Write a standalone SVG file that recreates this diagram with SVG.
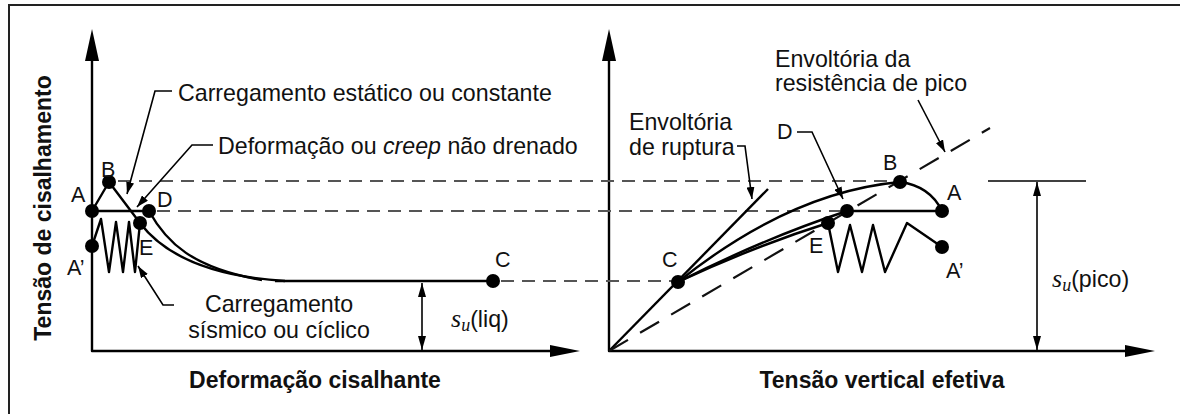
<svg xmlns="http://www.w3.org/2000/svg" width="1180" height="414" viewBox="0 0 1180 414">
<style>
text{font-family:"Liberation Sans",Arial,sans-serif;fill:#111}
.lbl{font-size:23.2px}
.pt{font-size:21.5px}
.ax{font-size:23px;font-weight:bold}
.ln{fill:none;stroke:#000;stroke-width:2.4;stroke-linejoin:round}
.thin{fill:none;stroke:#000;stroke-width:1.6}
.dash{fill:none;stroke:#555;stroke-width:1.8;stroke-dasharray:13 8}
.pdash{fill:none;stroke:#111;stroke-width:2.2;stroke-dasharray:22 14}
.dot{fill:#000}
.math{font-family:"Liberation Serif","Times New Roman",serif;font-style:italic}
</style>
<defs>
<marker id="ah" viewBox="0 0 12 8" refX="12" refY="4" markerWidth="12" markerHeight="8" markerUnits="userSpaceOnUse" orient="auto"><path d="M0,0 L12,4 L0,8 z" fill="#000"/></marker>
<marker id="dh" viewBox="0 0 14 8" refX="14" refY="4" markerWidth="14" markerHeight="8" markerUnits="userSpaceOnUse" orient="auto-start-reverse"><path d="M0,0 L14,4 L0,8 z" fill="#000"/></marker>
</defs>
<rect x="9" y="5" width="1190" height="430" fill="#fff" stroke="#222" stroke-width="2"/>

<g id="axes">
<path class="ln" d="M92,55 V351 H555"/>
<polygon points="92,29 85,61 99,61" fill="#000"/>
<polygon points="580,351 550,345 550,357" fill="#000"/>
<path class="ln" d="M609,55 V351 H1130"/>
<polygon points="609,29 602,61 616,61" fill="#000"/>
<polygon points="1155,351 1125,345 1125,357" fill="#000"/>
<text class="ax" transform="translate(51,208) rotate(-90)" text-anchor="middle">Tensão de cisalhamento</text>
<text class="ax" x="315" y="388" text-anchor="middle">Deformação cisalhante</text>
<text class="ax" x="882" y="388" text-anchor="middle">Tensão vertical efetiva</text>
</g>

<g id="connectors">
<path class="dash" d="M118,181 H893"/>
<path class="dash" d="M157,211 H840"/>
<path class="dash" d="M501,281 H672"/>
<!-- left plot -->
<path class="ln" d="M92,211 L109,182 L140,223"/>
<path class="ln" d="M92,211 H149"/>
<path class="ln" d="M140,223 C162,252 205,276 285,281"/>
<path class="ln" d="M149,211 C166,242 192,268 262,280"/>
<path class="ln" d="M275,281 H493"/>
<path class="ln" d="M92,246 L101,219 L109,272 L116,222 L123,272 L129,222 L135,272 L140,223"/>
<path class="thin" d="M172,91 H155 L127,194" marker-end="url(#ah)"/>
<path class="thin" d="M213,145 H192 L137,207" marker-end="url(#ah)"/>
<path class="thin" d="M174,305 H163 L138,266" marker-end="url(#ah)"/>
<path class="thin" d="M422,283 V350" marker-start="url(#dh)" marker-end="url(#dh)"/>
<!-- right plot -->
<path class="ln" d="M609,351 L768,189"/>
<path class="pdash" d="M609,351 L990,128"/>
<path class="ln" d="M678,282 Q790,192 900,182"/>
<path class="ln" d="M678,282 Q765,238 847,211"/>
<path class="ln" d="M678,282 Q755,246 828,223"/>
<path class="ln" d="M847,211 H942"/>
<path class="ln" d="M900,182 Q930,186 942,211"/>
<path class="ln" d="M828,223 L838,272 L850,225 L862,272 L873,225 L885,272 L907,223 L942,247"/>
<path class="thin" d="M737,146 H745 L752,199" marker-end="url(#ah)"/>
<path class="thin" d="M797,132 H812 L843,199" marker-end="url(#ah)"/>
<path class="thin" d="M918,100 L945,152" marker-end="url(#ah)"/>
<path class="thin" d="M988,181 H1086"/>
<path class="thin" d="M1037,182 V350" marker-start="url(#dh)" marker-end="url(#dh)"/>
</g>

<g id="label-static"><text class="lbl" x="178" y="101">Carregamento estático ou constante</text></g>
<g id="label-creep"><text class="lbl" x="218" y="154">Deformação ou <tspan font-style="italic">creep</tspan> não drenado</text></g>
<g id="label-cyclic"><text class="lbl" x="279" y="312" text-anchor="middle">Carregamento</text><text class="lbl" x="279" y="338" text-anchor="middle">sísmico ou cíclico</text></g>
<g id="label-suliq"><text class="lbl" x="451" y="327"><tspan class="math" font-size="26">s</tspan><tspan class="math" font-size="18" dy="4">u</tspan><tspan dy="-4">(liq)</tspan></text></g>

<g id="L-A"><circle class="dot" cx="92" cy="211" r="7"/><text class="pt" x="71" y="202">A</text></g>
<g id="L-B"><circle class="dot" cx="109" cy="182" r="7"/><text class="pt" x="101" y="177">B</text></g>
<g id="L-D"><circle class="dot" cx="149" cy="211" r="7"/><text class="pt" x="157" y="207">D</text></g>
<g id="L-E"><circle class="dot" cx="140" cy="223" r="7"/><text class="pt" x="139" y="255">E</text></g>
<g id="L-A2"><circle class="dot" cx="92" cy="246" r="7"/><text class="pt" x="67" y="275">A’</text></g>
<g id="L-C"><circle class="dot" cx="493" cy="281" r="7"/><text class="pt" x="495" y="267">C</text></g>

<g id="label-peak"><text class="lbl" x="775" y="67">Envoltória da</text><text class="lbl" x="775" y="91">resistência de pico</text></g>
<g id="label-rupture"><text class="lbl" x="629" y="130">Envoltória</text><text class="lbl" x="629" y="155">de ruptura</text></g>
<g id="label-supico"><text class="lbl" x="1052" y="287"><tspan class="math" font-size="26">s</tspan><tspan class="math" font-size="18" dy="4">u</tspan><tspan dy="-4">(pico)</tspan></text></g>

<g id="R-B"><circle class="dot" cx="900" cy="182" r="7"/><text class="pt" x="883" y="170">B</text></g>
<g id="R-A"><circle class="dot" cx="942" cy="211" r="7"/><text class="pt" x="947" y="200">A</text></g>
<g id="R-D"><circle class="dot" cx="847" cy="211" r="7"/><text class="pt" x="777" y="139">D</text></g>
<g id="R-E"><circle class="dot" cx="828" cy="223" r="7"/><text class="pt" x="809" y="253">E</text></g>
<g id="R-A2"><circle class="dot" cx="942" cy="247" r="7"/><text class="pt" x="946" y="278">A’</text></g>
<g id="R-C"><circle class="dot" cx="678" cy="282" r="7"/><text class="pt" x="662" y="267">C</text></g>
</svg>
